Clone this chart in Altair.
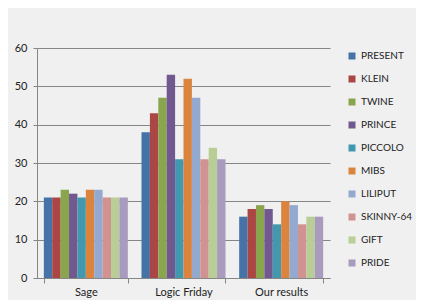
import altair as alt
import pandas as pd

categories = ["Sage", "Logic Friday", "Our results"]
series = ["PRESENT", "KLEIN", "TWINE", "PRINCE", "PICCOLO", "MIBS",
          "LILIPUT", "SKINNY-64", "GIFT", "PRIDE"]
sage = [21, 21, 23, 22, 21, 23, 23, 21, 21, 21]
logic_friday = [38, 43, 47, 53, 31, 52, 47, 31, 34, 31]
our_results = [16, 18, 19, 18, 14, 20, 19, 14, 16, 16]
colors = ["#4572A7", "#AA4643", "#89A54E", "#71588F", "#4198AF",
          "#DB843D", "#93A9CF", "#D19392", "#B9CD96", "#A99BBD"]

rows = []
for cat, vals in zip(categories, [sage, logic_friday, our_results]):
    for s, v in zip(series, vals):
        rows.append({"category": cat, "series": s, "value": v})
df = pd.DataFrame(rows)

font = "Lato"

chart = alt.Chart(df).mark_bar().encode(
    x=alt.X("category:N", sort=categories, title=None,
            scale=alt.Scale(paddingInner=0.14, paddingOuter=0.07),
            axis=alt.Axis(labelAngle=0, tickBand="extent", ticks=True, tickSize=5,
                          domainColor="#868686", tickColor="#868686",
                          labelFont=font, labelFontSize=11, labelColor="#222222",
                          labelPadding=3)),
    xOffset=alt.XOffset("series:N", sort=series),
    y=alt.Y("value:Q", title=None,
            scale=alt.Scale(domain=[0, 60]),
            axis=alt.Axis(values=[0, 10, 20, 30, 40, 50, 60], tickSize=4,
                          domainColor="#868686", tickColor="#868686",
                          gridColor="#868686", gridWidth=1,
                          labelFont=font, labelFontSize=11, labelColor="#222222",
                          labelPadding=6)),
    color=alt.Color("series:N", sort=series,
                    scale=alt.Scale(domain=series, range=colors),
                    legend=alt.Legend(title=None, orient="none", legendX=310, legendY=3,
                                      symbolType="square", symbolSize=49,
                                      symbolStrokeWidth=0,
                                      labelFont=font, labelFontSize=10,
                                      labelColor="#222222", rowPadding=13,
                                      labelOffset=4)),
).properties(
    width=293, height=230,
    background="#f0f0f0",
    autosize=alt.AutoSizeParams(type="none"),
    padding={"left": 29, "top": 40, "right": 86, "bottom": 22},
).configure_view(stroke=None)

chart.save("out.html", embed_options={"renderer": "svg", "actions": False})
